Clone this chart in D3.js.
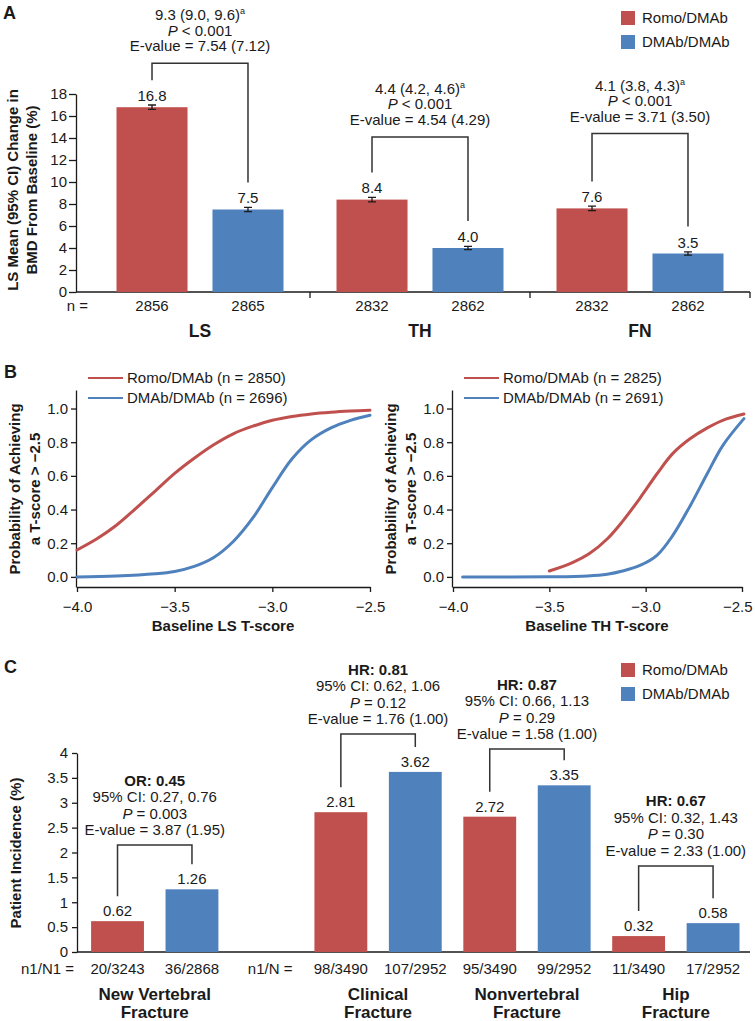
<!DOCTYPE html>
<html>
<head>
<meta charset="utf-8">
<script src="https://cdn.jsdelivr.net/npm/d3@7"></script>
<style>
  body { margin: 0; background: #fff; }
  svg { display: block; font-family: "Liberation Sans", Arial, sans-serif; }
  .axis path, .axis line { stroke: #1a1a1a; stroke-width: 1.3; }
  .axis text { font-size: 15px; fill: #1a1a1a; font-family: "Liberation Sans", Arial, sans-serif; }
</style>
</head>
<body>
<script>
// ---- data: panel A (BMD change) ----
const sites = ['LS', 'TH', 'FN']
const groups = ['Romo/DMAb', 'DMAb/DMAb']
const bmdRomo = [16.8, 8.4, 7.6]
const bmdDmab = [7.5, 4.0, 3.5]
const ciRomo = [[16.6, 17.0], [8.2, 8.6], [7.4, 7.8]]
const ciDmab = [[7.3, 7.7], [3.85, 4.15], [3.35, 3.65]]
const nRomo = ['2856', '2832', '2832']
const nDmab = ['2865', '2862', '2862']
const diffA = ['9.3 (9.0, 9.6)', '4.4 (4.2, 4.6)', '4.1 (3.8, 4.3)']
const pA = ['< 0.001', '< 0.001', '< 0.001']
const eA = ['7.54 (7.12)', '4.54 (4.29)', '3.71 (3.50)']

// ---- data: panel B (probability curves) ----
const lsRomoT = [-4.0, -3.9, -3.8, -3.7, -3.6, -3.5, -3.4, -3.3, -3.2, -3.1, -3.0, -2.9, -2.8, -2.7, -2.6, -2.5]
const lsRomoP = [0.16, 0.225, 0.305, 0.405, 0.51, 0.615, 0.705, 0.785, 0.85, 0.895, 0.93, 0.953, 0.968, 0.978, 0.985, 0.99]
const lsDmabT = [-4.0, -3.8, -3.6, -3.5, -3.4, -3.3, -3.2, -3.1, -3.0, -2.9, -2.8, -2.7, -2.6, -2.5]
const lsDmabP = [0.0, 0.005, 0.018, 0.032, 0.062, 0.115, 0.21, 0.35, 0.53, 0.70, 0.815, 0.885, 0.93, 0.96]
const thRomoT = [-3.5, -3.38, -3.29, -3.2, -3.12, -3.03, -2.94, -2.86, -2.77, -2.68, -2.6, -2.49]
const thRomoP = [0.035, 0.085, 0.14, 0.225, 0.33, 0.467, 0.614, 0.732, 0.82, 0.885, 0.93, 0.967]
const thDmabT = [-3.95, -3.5, -3.3, -3.2, -3.12, -3.03, -2.94, -2.86, -2.77, -2.68, -2.6, -2.49]
const thDmabP = [0.0, 0.001, 0.006, 0.016, 0.035, 0.068, 0.13, 0.245, 0.42, 0.614, 0.78, 0.94]
const nCurveLS = ['2850', '2696']
const nCurveTH = ['2825', '2691']
const probTicks = [0, 0.2, 0.4, 0.6, 0.8, 1.0]
const tTicks = [-4.0, -3.5, -3.0, -2.5]

// ---- data: panel C (fracture incidence) ----
const fractures = ['NV', 'CF', 'NF', 'HF']
const fractureNames = [['New Vertebral', 'Fracture'], ['Clinical', 'Fracture'], ['Nonvertebral', 'Fracture'], ['Hip', 'Fracture']]
const incRomo = [0.62, 2.81, 2.72, 0.32]
const incDmab = [1.26, 3.62, 3.35, 0.58]
const countRomo = ['20/3243', '98/3490', '95/3490', '11/3490']
const countDmab = ['36/2868', '107/2952', '99/2952', '17/2952']
const ratioName = ['OR', 'HR', 'HR', 'HR']
const ratioVal = ['0.45', '0.81', '0.87', '0.67']
const ratioCI = ['0.27, 0.76', '0.62, 1.06', '0.66, 1.13', '0.32, 1.43']
const pC = ['0.003', '0.12', '0.29', '0.30']
const eC = ['3.87 (1.95)', '1.76 (1.00)', '1.58 (1.00)', '2.33 (1.00)']
const incTicks = [0, 0.5, 1, 1.5, 2, 2.5, 3, 3.5, 4]

// bracket heights (in each panel's value units)
const bracketA = [20.8, 14.1, 14.4]
const bracketC = [2.15, 4.38, 4.08, 1.73]

const RED = '#c0504d', BLUE = '#4f81bd', INK = '#1a1a1a'
const colors = [RED, BLUE]

const svg = d3.select('body').append('svg')
  .attr('width', 755).attr('height', 1021)

function label(g, x, y, txt, size, weight, anchor) {
  return g.append('text')
    .attr('x', x).attr('y', y)
    .attr('font-size', size)
    .attr('font-weight', weight || 'normal')
    .attr('text-anchor', anchor || 'middle')
    .attr('fill', INK)
    .text(txt)
}

function yTitle(x, y, lines, gap) {
  const t = svg.append('text')
    .attr('transform', `translate(${x},${y}) rotate(-90)`)
    .attr('text-anchor', 'middle')
    .attr('font-size', 15).attr('font-weight', 'bold').attr('fill', INK)
  lines.forEach((l, i) => t.append('tspan').attr('x', 0).attr('y', i * gap).text(l))
}

function bracket(x1, y1, yTop, x2, y2) {
  svg.append('path')
    .attr('d', `M${x1},${y1}V${yTop}H${x2}V${y2}`)
    .attr('fill', 'none').attr('stroke', '#333').attr('stroke-width', 1.5)
}

function squareLegend(x, y0) {
  groups.forEach((g, i) => {
    svg.append('rect').attr('x', x).attr('y', y0 + i * 24 - 7)
      .attr('width', 14).attr('height', 14).attr('fill', colors[i])
    label(svg, x + 21, y0 + i * 24 + 5, g, 15, 'normal', 'start')
  })
}

// ================= Panel A =================
label(svg, 3, 19, 'A', 18, 'bold', 'start')

const yA = d3.scaleLinear().domain([0, 18]).range([292, 94])
const xA = d3.scaleBand().domain(sites).range([90, 750])
const xSub = d3.scaleBand().domain(groups).range([26.5, 193.5]).paddingInner(0.26)

svg.append('g').attr('class', 'axis').attr('transform', 'translate(76,0)')
  .call(d3.axisLeft(yA).tickValues(d3.range(0, 19, 2)).tickSize(7).tickPadding(2).tickSizeOuter(0))

svg.append('line').attr('x1', 76).attr('x2', xA.range()[1])
  .attr('y1', yA(0)).attr('y2', yA(0)).attr('stroke', INK).attr('stroke-width', 1.3)
sites.forEach(s => {
  const xe = xA(s) + xA.bandwidth()
  svg.append('line').attr('x1', xe).attr('x2', xe)
    .attr('y1', yA(0)).attr('y2', yA(0) + 6).attr('stroke', INK).attr('stroke-width', 1.3)
})

const bw = xSub.bandwidth()
sites.forEach((s, i) => {
  const vals = [bmdRomo[i], bmdDmab[i]]
  const cis = [ciRomo[i], ciDmab[i]]
  const ns = [nRomo[i], nDmab[i]]
  const cx = groups.map(g => xA(s) + xSub(g) + bw / 2)
  groups.forEach((g, j) => {
    svg.append('rect')
      .attr('x', xA(s) + xSub(g)).attr('y', yA(vals[j]))
      .attr('width', bw).attr('height', yA(0) - yA(vals[j]))
      .attr('fill', colors[j])
    const [lo, hi] = cis[j]
    svg.append('path')
      .attr('d', `M${cx[j]},${yA(lo)}V${yA(hi)}M${cx[j] - 4},${yA(lo)}H${cx[j] + 4}M${cx[j] - 4},${yA(hi)}H${cx[j] + 4}`)
      .attr('stroke', INK).attr('stroke-width', 1.3).attr('fill', 'none')
    label(svg, cx[j], yA(hi) - 4, d3.format('.1f')(vals[j]), 15)
    label(svg, cx[j], 311, ns[j], 15)
  })
  label(svg, xA(s) + xA.bandwidth() / 2, 337, s, 17.5, 'bold')

  const yb = yA(bracketA[i])
  bracket(cx[0], yA(vals[0]) - 27, yb, cx[1], yA(vals[1]) - 27)
  const mx = (cx[0] + cx[1]) / 2
  const t0 = label(svg, mx, yb - 12 - 31, diffA[i], 15)
  t0.append('tspan').attr('font-size', 9).attr('dy', -6).text('a')
  const t1 = label(svg, mx, yb - 12 - 15.5, '', 15)
  t1.append('tspan').attr('font-style', 'italic').text('P')
  t1.append('tspan').text(' ' + pA[i])
  label(svg, mx, yb - 12, 'E-value = ' + eA[i], 15)
})
label(svg, 88, 311, 'n =', 15, 'normal', 'end')
yTitle(18, 190, ['LS Mean (95% CI) Change in', 'BMD From Baseline (%)'], 19)
squareLegend(621, 18)

// ================= Panel B =================
label(svg, 4, 378, 'B', 18, 'bold', 'start')

const yB = d3.scaleLinear().domain([-0.06, 1.11]).range([587, 390])

function curvePanel(x0, x1, series, nLabels, site, lastShift) {
  const x = d3.scaleLinear().domain([-4, -2.5]).range([x0 + 1, x1])
  svg.append('g').attr('class', 'axis').attr('transform', `translate(${x0},0)`)
    .call(d3.axisLeft(yB).tickValues(probTicks).tickFormat(d3.format('.1f'))
      .tickSize(5).tickPadding(3).tickSizeOuter(0))
  const xg = svg.append('g').attr('class', 'axis').attr('transform', `translate(0,${yB.range()[0]})`)
    .call(d3.axisBottom(x).tickValues(tTicks).tickFormat(d3.format('.1f'))
      .tickSize(5).tickPadding(9).tickSizeOuter(0))
  if (lastShift) {
    xg.selectAll('.tick').filter(d => d === -2.5).select('text')
      .attr('text-anchor', 'end').attr('x', lastShift)
  }
  const line = d3.line().x(d => x(d[0])).y(d => yB(d[1])).curve(d3.curveCatmullRom.alpha(0.5))
  series.forEach((s, i) => {
    svg.append('path').datum(d3.zip(s[0], s[1]))
      .attr('d', line).attr('fill', 'none')
      .attr('stroke', colors[i]).attr('stroke-width', 3).attr('stroke-linecap', 'round')
    const ly = 378 + i * 20
    svg.append('line').attr('x1', x0 + 12).attr('x2', x0 + 47).attr('y1', ly).attr('y2', ly)
      .attr('stroke', colors[i]).attr('stroke-width', 2)
    label(svg, x0 + 51, ly + 5, `${groups[i]} (n = ${nLabels[i]})`, 15, 'normal', 'start')
  })
  label(svg, (x0 + x1) / 2, 631, `Baseline ${site} T-score`, 15, 'bold')
  yTitle(x0 - 56, 489, ['Probability of Achieving', 'a T-score > \u22122.5'], 20)
}
curvePanel(76, 370, [[lsRomoT, lsRomoP], [lsDmabT, lsDmabP]], nCurveLS, 'LS', 0)
curvePanel(452, 742, [[thRomoT, thRomoP], [thDmabT, thDmabP]], nCurveTH, 'TH', 10)

// ================= Panel C =================
label(svg, 4, 673, 'C', 18, 'bold', 'start')

const slots = []
fractures.forEach((f, i) => {
  slots.push(f + '|R', f + '|D')
  if (i === 0) slots.push('gap')
})
const yC = d3.scaleLinear().domain([0, 4]).range([952, 753])
const xC = d3.scaleBand().domain(slots).range([80.3, 750.3]).paddingInner(0.29).paddingOuter(0.145)

svg.append('g').attr('class', 'axis').attr('transform', 'translate(77,0)')
  .call(d3.axisLeft(yC).tickValues(incTicks).tickFormat(d3.format('~g'))
    .tickSize(5).tickPadding(4).tickSizeOuter(0))
svg.append('line').attr('x1', 77).attr('x2', 750)
  .attr('y1', yC(0)).attr('y2', yC(0)).attr('stroke', INK).attr('stroke-width', 1.3)

const cbw = xC.bandwidth()
fractures.forEach((f, i) => {
  const vals = [incRomo[i], incDmab[i]]
  const cnt = [countRomo[i], countDmab[i]]
  const keys = [f + '|R', f + '|D']
  const cx = keys.map(k => xC(k) + cbw / 2)
  keys.forEach((k, j) => {
    svg.append('rect')
      .attr('x', xC(k)).attr('y', yC(vals[j]))
      .attr('width', cbw).attr('height', yC(0) - yC(vals[j]))
      .attr('fill', colors[j])
    label(svg, cx[j], yC(vals[j]) - 5, d3.format('.2f')(vals[j]), 15)
    label(svg, cx[j], 974, cnt[j], 15)
  })
  const mx = (cx[0] + cx[1]) / 2
  fractureNames[i].forEach((l, k) => label(svg, mx, 1000 + k * 18, l, 17, 'bold'))

  const yb = yC(bracketC[i])
  bracket(cx[0], yC(vals[0]) - 25, yb, cx[1], yC(vals[1]) - 25)
  const base = yb - 10
  label(svg, mx, base - 49.5, `${ratioName[i]}: ${ratioVal[i]}`, 15, 'bold')
  label(svg, mx, base - 33, `95% CI: ${ratioCI[i]}`, 15)
  const tp = label(svg, mx, base - 16.5, '', 15)
  tp.append('tspan').attr('font-style', 'italic').text('P')
  tp.append('tspan').text(' = ' + pC[i])
  label(svg, mx, base, 'E-value = ' + eC[i], 15)
})
label(svg, 74, 974, 'n1/N1 =', 15, 'normal', 'end')
label(svg, xC('CF|R') - 22, 974, 'n1/N =', 15, 'normal', 'end')
yTitle(21, 853, ['Patient Incidence (%)'], 0)
squareLegend(621, 670)
</script>
</body>
</html>
